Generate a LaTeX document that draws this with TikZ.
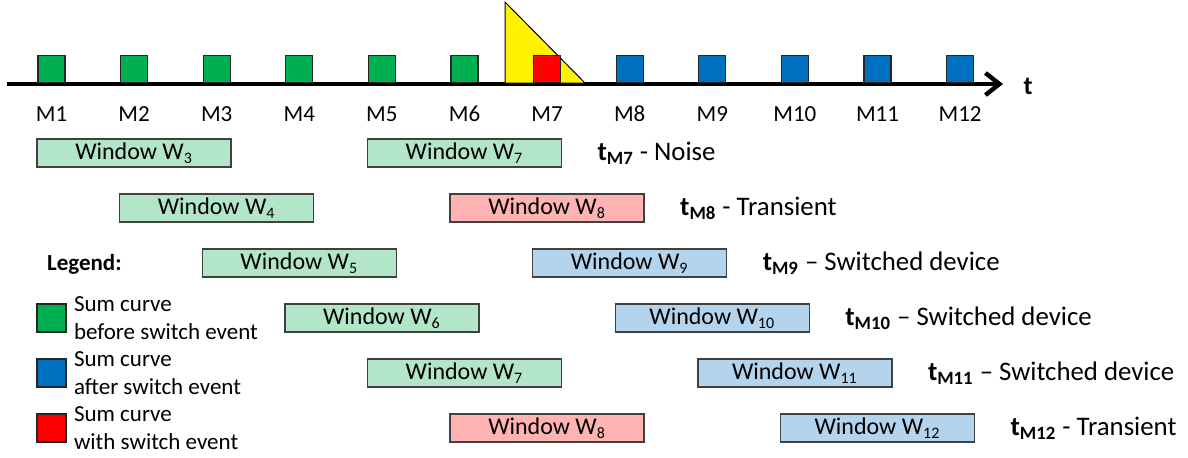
\documentclass[tikz,border=0pt]{standalone}
\usepackage{fontspec}
\setmainfont{Carlito}
\usetikzlibrary{arrows.meta,positioning}

\definecolor{sumgreen}{HTML}{00B050}
\definecolor{sumblue}{HTML}{0070C0}
\definecolor{sumred}{HTML}{FF0000}
\definecolor{wingreen}{HTML}{B3E6C8}
\definecolor{winred}{HTML}{FFB3B3}
\definecolor{winblue}{HTML}{B4D3EC}

\tikzset{
  sample/.style={draw=black!85, line width=0.6pt, minimum size=13.5pt, inner sep=0pt},
  window/.style={draw=black!75, line width=0.7pt, minimum width=97pt, minimum height=14pt,
    inner sep=0pt, font=\fontsize{12}{14}\selectfont},
  result/.style={inner sep=0pt, font=\fontsize{13.4}{15}\selectfont},
  keybox/.style={sample, minimum width=14.5pt, minimum height=14pt},
  keytext/.style={inner sep=0pt, align=left, font=\fontsize{11.5}{14}\selectfont},
}

\begin{document}
\begin{tikzpicture}[x=0.5pt,y=-0.5pt,font=\fontsize{11.5}{14}\selectfont,node distance=41.3pt]
\useasboundingbox (0,0) rectangle (1188,457);

% time axis
\coordinate (t0) at (7,84);
\coordinate (t1) at (1003,84);
\draw[line width=2.2pt,-{Straight Barb[length=7pt,width=11pt]}] (t0) -- (t1);
\node[font=\fontsize{13}{15}\selectfont\bfseries] (t) at (1028,86) {t};

% switch event
\draw[fill=yellow,line width=0.5pt] (505,2) -- (505,83) -- (585,83) -- cycle;

% sum curves
\node[sample,fill=sumgreen] (m1) at (51.5,69) {};
\node[sample,fill=sumgreen] (m2) [right of=m1] {};
\node[sample,fill=sumgreen] (m3) [right of=m2] {};
\node[sample,fill=sumgreen] (m4) [right of=m3] {};
\node[sample,fill=sumgreen] (m5) [right of=m4] {};
\node[sample,fill=sumgreen] (m6) [right of=m5] {};
\node[sample,fill=sumred]   (m7) [right of=m6] {};
\node[sample,fill=sumblue]  (m8) [right of=m7] {};
\node[sample,fill=sumblue]  (m9) [right of=m8] {};
\node[sample,fill=sumblue]  (m10) [right of=m9] {};
\node[sample,fill=sumblue]  (m11) [right of=m10] {};
\node[sample,fill=sumblue]  (m12) [right of=m11] {};

\node (l1) at (m1 |- 0,114) {M1};
\node (l2) at (m2 |- 0,114) {M2};
\node (l3) at (m3 |- 0,114) {M3};
\node (l4) at (m4 |- 0,114) {M4};
\node (l5) at (m5 |- 0,114) {M5};
\node (l6) at (m6 |- 0,114) {M6};
\node (l7) at (m7 |- 0,114) {M7};
\node (l8) at (m8 |- 0,114) {M8};
\node (l9) at (m9 |- 0,114) {M9};
\node (l10) at (m10 |- 0,114) {M10};
\node (l11) at (m11 |- 0,114) {M11};
\node (l12) at (m12 |- 0,114) {M12};

% windows
\node[window,fill=wingreen] (w3)  at (m2 |- 0,153) {Window W\textsubscript{3}};
\node[window,fill=wingreen] (w7a) at (m6 |- 0,153) {Window W\textsubscript{7}};
\node[result] (r7) [right=17.5pt of w7a] {\textbf{t\textsubscript{M7}} - Noise};

\node[window,fill=wingreen] (w4)  at (m3 |- 0,208) {Window W\textsubscript{4}};
\node[window,fill=winred]   (w8a) at (m7 |- 0,208) {Window W\textsubscript{8}};
\node[result] (r8) [right=17.5pt of w8a] {\textbf{t\textsubscript{M8}} - Transient};

\node[window,fill=wingreen] (w5)  at (m4 |- 0,263) {Window W\textsubscript{5}};
\node[window,fill=winblue]  (w9)  at (m8 |- 0,263) {Window W\textsubscript{9}};
\node[result] (r9) [right=17.5pt of w9] {\textbf{t\textsubscript{M9}} -- Switched device};

\node[window,fill=wingreen] (w6)  at (m5 |- 0,318) {Window W\textsubscript{6}};
\node[window,fill=winblue]  (w10) at (m9 |- 0,318) {Window W\textsubscript{10}};
\node[result] (r10) [right=17.5pt of w10] {\textbf{t\textsubscript{M10}} -- Switched device};

\node[window,fill=wingreen] (w7b) at (m6 |- 0,373) {Window W\textsubscript{7}};
\node[window,fill=winblue]  (w11) at (m10 |- 0,373) {Window W\textsubscript{11}};
\node[result] (r11) [right=17.5pt of w11] {\textbf{t\textsubscript{M11}} -- Switched device};

\node[window,fill=winred]   (w8b) at (m7 |- 0,428) {Window W\textsubscript{8}};
\node[window,fill=winblue]  (w12) at (m11 |- 0,428) {Window W\textsubscript{12}};
\node[result] (r12) [right=17.5pt of w12] {\textbf{t\textsubscript{M12}} - Transient};

% legend
\node[anchor=west,font=\fontsize{11.5}{14}\selectfont\bfseries] (legend) at (40,264) {Legend:};
\node[keybox,fill=sumgreen] (k1) at (51.5,318) {};
\node[keytext] (k1t) [right=3.5pt of k1] {Sum curve\\before switch event};
\node[keybox,fill=sumblue] (k2) at (51.5,373) {};
\node[keytext] (k2t) [right=3.5pt of k2] {Sum curve\\after switch event};
\node[keybox,fill=sumred] (k3) at (51.5,428) {};
\node[keytext] (k3t) [right=3.5pt of k3] {Sum curve\\with switch event};

\end{tikzpicture}
\end{document}
